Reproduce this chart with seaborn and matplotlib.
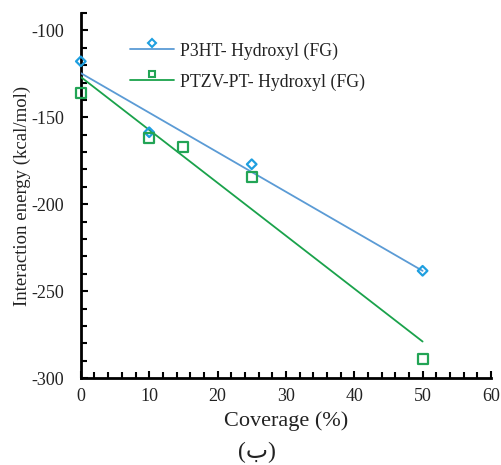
import numpy as np
import pandas as pd
import matplotlib
matplotlib.use("Agg")
import matplotlib.pyplot as plt
import seaborn as sns
from matplotlib.lines import Line2D
from matplotlib.legend_handler import HandlerLine2D, HandlerTuple
from matplotlib.transforms import Affine2D
from matplotlib.ticker import MultipleLocator

# ---- data ----
p3ht_coverage = [0, 10, 25, 50]
p3ht_energy = [-117.8, -158.6, -177.0, -238.3]
ptzv_coverage = [0, 10, 15, 25, 50]
ptzv_energy = [-136.2, -161.9, -167.0, -184.3, -289.0]
series_labels = ["P3HT- Hydroxyl (FG)", "PTZV-PT- Hydroxyl (FG)"]
x_label = "Coverage (%)"
y_label = "Interaction energy (kcal/mol)"
caption = "(ب)"

blue_marker = "#1E9FE0"
blue_line = "#5B9BD5"
green_marker = "#22A455"
green_line = "#1AA24B"

sns.set_theme(style="white")
plt.rcParams["font.family"] = ["Liberation Serif", "DejaVu Sans"]
plt.rcParams["axes.unicode_minus"] = False

fig = plt.figure(figsize=(5.02, 4.65), dpi=100)
ax = fig.add_axes([0.161, 0.187, 0.817, 0.785])

df1 = pd.DataFrame({"x": p3ht_coverage, "y": p3ht_energy})
df2 = pd.DataFrame({"x": ptzv_coverage, "y": ptzv_energy})

sns.regplot(data=df1, x="x", y="y", ax=ax, ci=None, marker="D", color=blue_marker,
            scatter_kws={"facecolors": "none", "linewidths": 1.6, "s": 24, "alpha": 1,
                         "zorder": 4, "clip_on": False},
            line_kws={"color": blue_line, "linewidth": 1.3, "zorder": 3})
sns.regplot(data=df2, x="x", y="y", ax=ax, ci=None, marker="s", color=green_marker,
            scatter_kws={"facecolors": "none", "linewidths": 1.6, "s": 52, "alpha": 1,
                         "zorder": 4, "clip_on": False},
            line_kws={"color": green_line, "linewidth": 1.3, "zorder": 3})

ax.set_xlim(0, 60)
ax.set_ylim(-300, -90)
ax.xaxis.set_major_locator(MultipleLocator(10))
ax.xaxis.set_minor_locator(MultipleLocator(2))
ax.yaxis.set_major_locator(MultipleLocator(50))
ax.yaxis.set_minor_locator(MultipleLocator(10))
ax.tick_params(which="both", direction="in", color="black", width=1.5,
               bottom=True, left=True, top=False, right=False)
ax.tick_params(which="major", length=5)
ax.tick_params(which="minor", length=4)
ax.tick_params(axis="x", which="major", labelsize=13, pad=7, labelcolor="#222222")
ax.tick_params(axis="y", which="major", labelsize=13, pad=12, labelcolor="#222222")
for s in ["top", "right"]:
    ax.spines[s].set_visible(False)
for s in ["left", "bottom"]:
    ax.spines[s].set_color("black")
    ax.spines[s].set_linewidth(2)
ax.set_facecolor("white")
ax.grid(False)

ax.set_xlabel(x_label, fontsize=16, labelpad=5, color="#222222")
ax.set_ylabel(y_label, fontsize=13.5, labelpad=0, color="#222222")

fig.text(0.512, 0.027, caption, ha="center", va="center", fontsize=17,
         family=["Liberation Serif", "DejaVu Sans"], color="#222222")


class HandlerMarkerUp(HandlerLine2D):
    def create_artists(self, legend, orig_handle, xdescent, ydescent, width, height, fontsize, trans):
        arts = super().create_artists(legend, orig_handle, xdescent, ydescent, width, height, fontsize, trans)
        for a in arts:
            a.set_transform(Affine2D().translate(0, 4.6) + a.get_transform())
        return arts


h1_line = Line2D([], [], color=blue_line, linewidth=1.3)
h1_mark = Line2D([], [], color=blue_marker, marker="D", markersize=3.8, markerfacecolor="none",
                 markeredgewidth=1.5, linestyle="none")
h2_line = Line2D([], [], color=green_line, linewidth=1.3)
h2_mark = Line2D([], [], color=green_marker, marker="s", markersize=5, markerfacecolor="none",
                 markeredgewidth=1.5, linestyle="none")

leg = ax.legend([(h1_line, h1_mark), (h2_line, h2_mark)], series_labels,
                handler_map={tuple: HandlerTuple(ndivide=1, pad=0), h1_mark: HandlerMarkerUp(),
                             h2_mark: HandlerMarkerUp()},
                loc="upper left", bbox_to_anchor=(0.12, 0.92), frameon=False,
                fontsize=12.8, handlelength=2.5, handletextpad=0.3, labelspacing=0.77,
                borderpad=0, borderaxespad=0)
for t in leg.get_texts():
    t.set_color("#222222")

fig.savefig("out.png", dpi=100, facecolor="white")
